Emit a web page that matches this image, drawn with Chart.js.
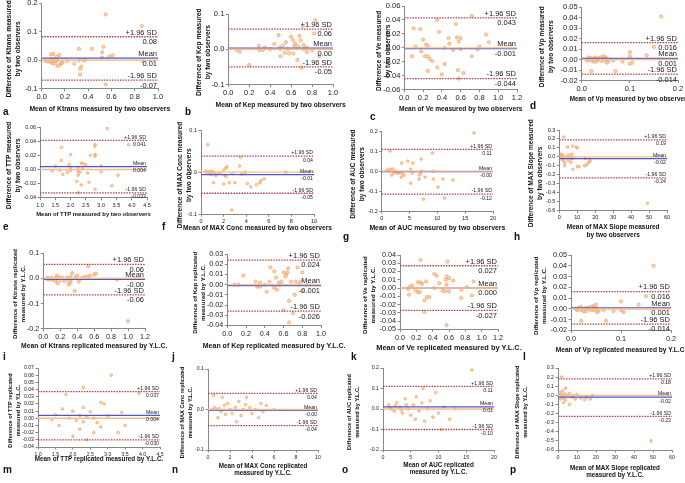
<!DOCTYPE html>
<html>
<head>
<meta charset="utf-8">
<script src="https://cdn.jsdelivr.net/npm/chart.js@4.4.0/dist/chart.umd.min.js"></script>
<style>
  body { margin: 0; background: #fff; width: 685px; height: 483px; overflow: hidden; position: relative; font-family: "Liberation Sans", Arial, sans-serif; }
  .panel { position: absolute; }
  .letter { position: absolute; font-weight: bold; font-size: 10px; color: #111; line-height: 10px; }
</style>
</head>
<body>
<script>
// Bland-Altman data: [mean of two measurements, difference]
const ktransObs = [[0.55,0.16],[0.86,0.12],[0.87,-0.003],[0.55,-0.085],[0.32,0.04],[0.43,0.04],[0.53,0.047],[0.52,0.028],[0.52,0.01],[0.58,0.012],[0.61,0.017],[0.33,-0.05],[0.33,-0.03],[0.34,-0.022],[0.32,-0.001],[0.36,0.0],[0.37,0.0],[0.28,-0.012],[0.22,-0.003],[0.18,-0.008],[0.16,-0.015],[0.15,0.018],[0.13,0.012],[0.12,-0.005],[0.1,0.022],[0.08,0.02],[0.09,0.003],[0.07,-0.003],[0.05,-0.005],[0.03,-0.002],[0.09,-0.01],[0.11,-0.012],[0.14,-0.02],[0.17,-0.01],[0.13,0.0],[0.11,0.002],[0.08,-0.007]];
const kepObs = [[0.2,-0.045],[0.08,-0.002],[0.11,-0.007],[0.29,0.01],[0.3,-0.003],[0.33,-0.002],[0.35,0.005],[0.4,0.0],[0.44,0.015],[0.48,0.04],[0.49,0.005],[0.5,-0.02],[0.5,0.0],[0.52,0.01],[0.54,-0.01],[0.55,0.02],[0.57,0.0],[0.58,-0.012],[0.6,0.035],[0.62,0.025],[0.63,0.01],[0.64,0.015],[0.62,-0.012],[0.66,-0.03],[0.67,0.008],[0.68,0.038],[0.69,0.025],[0.7,-0.052],[0.72,0.0],[0.75,-0.008],[0.75,0.005],[0.8,-0.003],[0.83,0.082],[0.82,0.045],[0.87,-0.02],[0.72,0.012],[0.71,0.065]];
const veObs = [[0.72,0.046],[0.35,0.04],[0.55,0.034],[0.1,0.028],[0.17,0.027],[0.37,0.023],[0.87,0.019],[0.56,0.015],[0.6,0.014],[0.47,0.014],[0.2,0.012],[0.23,0.005],[0.25,0.003],[0.12,0.002],[0.58,0.009],[0.48,0.006],[0.9,0.008],[0.8,0.002],[0.43,0.0],[0.52,-0.003],[0.6,-0.002],[0.18,-0.005],[0.22,-0.012],[0.25,-0.012],[0.08,-0.012],[0.27,-0.016],[0.3,-0.019],[0.35,-0.028],[0.43,-0.023],[0.25,-0.033],[0.4,-0.038],[0.57,-0.032],[0.63,-0.036],[0.58,-0.044],[0.72,-0.012],[0.78,-0.002]];
const vpObs = [[0.165,0.041],[0.15,0.012],[0.135,0.004],[0.1,0.007],[0.1,0.003],[0.105,-0.003],[0.1,-0.004],[0.07,-0.011],[0.02,-0.011],[0.085,-0.002],[0.065,-0.001],[0.01,0.0],[0.015,0.002],[0.02,-0.001],[0.025,0.0],[0.03,0.001],[0.03,-0.002],[0.035,0.0],[0.04,0.002],[0.045,0.003],[0.045,-0.001],[0.05,0.0],[0.05,0.002],[0.055,-0.002],[0.025,-0.002],[0.02,0.001],[0.035,0.001],[0.04,-0.001],[0.048,0.001],[0.052,-0.003],[0.012,-0.001],[0.028,0.002]];
const ttpObs = [[3.2,0.058],[3.9,0.035],[2.8,0.035],[2.8,0.033],[1.7,0.031],[2.0,0.021],[2.65,0.02],[2.8,0.021],[2.8,0.019],[1.7,0.013],[2.35,0.009],[2.4,0.008],[2.5,0.007],[1.95,0.007],[1.5,0.005],[2.0,0.003],[2.25,0.003],[3.0,0.005],[2.4,0.001],[1.65,-0.001],[1.4,-0.002],[2.0,-0.001],[2.25,-0.003],[2.3,-0.004],[1.9,-0.004],[2.55,-0.005],[2.25,-0.008],[3.0,-0.003],[3.55,-0.008],[2.2,-0.017],[2.6,-0.018],[2.35,-0.022],[3.35,-0.023],[2.25,-0.033],[2.8,-0.028],[1.75,-0.007]];
const maxConcObs = [[0.6,0.065],[2.7,-0.09],[3.5,0.035],[3.4,0.015],[2.2,0.01],[2.0,0.005],[2.3,0.013],[1.0,0.002],[0.5,0.0],[0.7,0.0],[0.8,0.001],[1.2,-0.002],[1.5,-0.003],[1.7,-0.002],[2.8,-0.003],[3.6,-0.005],[3.9,0.0],[0.9,-0.005],[1.3,-0.008],[2.1,-0.008],[1.1,-0.025],[2.0,-0.028],[2.5,-0.025],[3.0,-0.025],[4.1,-0.027],[4.4,-0.035],[4.9,-0.03],[5.2,-0.025],[5.3,-0.02],[5.6,-0.016],[7.5,0.0],[0.4,0.002],[2.2,-0.01]];
const aucObs = [[16.6,0.19],[9.1,0.09],[1.5,0.1],[7.1,0.06],[4.7,0.05],[3.6,0.04],[5.6,0.04],[2.0,0.01],[1.2,0.0],[1.5,0.01],[0.9,0.005],[2.5,0.0],[3.0,-0.01],[2.8,-0.01],[1.8,-0.02],[3.6,-0.01],[4.0,-0.02],[5.2,0.01],[5.5,-0.01],[6.8,-0.02],[7.0,-0.01],[7.2,0.0],[7.8,-0.03],[6.7,-0.04],[5.2,-0.06],[3.5,-0.03],[9.3,0.0],[9.3,-0.04],[11.0,-0.04],[12.8,-0.045],[10.1,-0.08],[7.5,-0.14],[11.3,-0.135],[2.2,-0.01]];
const maxSlopeObs = [[2.5,0.22],[7.5,0.12],[4.5,0.11],[9.5,0.11],[10,0.1],[1,0.03],[1.5,0.02],[2,0.01],[1,0.0],[1.5,-0.01],[2,-0.02],[3,0.0],[2.5,-0.04],[3,-0.07],[3,-0.1],[5,0.02],[6,0.0],[7,0.03],[7,-0.02],[8,-0.01],[5,-0.04],[6.5,-0.06],[7.5,-0.14],[10,-0.11],[11,-0.11],[14,-0.1],[15,-0.09],[16,-0.07],[17,-0.05],[17,-0.04],[14.5,-0.02],[49,-0.52],[1.5,-0.03],[4,-0.01]];
const ktransRep = [[1.0,-0.17],[0.53,0.048],[0.34,0.02],[0.37,-0.05],[0.6,0.015],[0.62,0.018],[0.55,0.01],[0.5,0.005],[0.45,0.0],[0.42,-0.013],[0.32,-0.018],[0.3,-0.01],[0.32,0.005],[0.28,0.003],[0.18,0.005],[0.16,0.01],[0.1,0.002],[0.05,0.003],[0.05,-0.004],[0.08,-0.005],[0.12,-0.006],[0.14,-0.01],[0.17,-0.02],[0.2,-0.008],[0.25,-0.012],[0.3,-0.025],[0.33,-0.003],[0.38,0.005],[0.48,0.003],[0.52,0.005],[0.87,-0.005],[0.15,0.0],[0.22,0.003],[0.4,0.01]];
const kepRep = [[0.17,0.009],[0.08,0.0],[0.12,0.0],[0.3,0.003],[0.32,-0.002],[0.35,-0.002],[0.35,0.002],[0.4,0.0],[0.42,-0.007],[0.45,0.003],[0.46,0.017],[0.5,0.013],[0.5,-0.003],[0.52,0.007],[0.53,-0.005],[0.55,0.002],[0.56,0.0],[0.58,0.003],[0.6,0.012],[0.62,0.008],[0.63,0.01],[0.65,0.016],[0.64,0.012],[0.66,-0.016],[0.66,-0.037],[0.6,-0.025],[0.68,0.003],[0.7,-0.028],[0.72,-0.01],[0.73,0.003],[0.75,0.017],[0.78,0.003],[0.8,0.012],[0.8,-0.006],[0.85,0.0],[0.76,0.0]];
const veRep = [[0.25,0.034],[0.58,0.032],[0.42,0.017],[0.45,0.015],[0.57,0.014],[0.6,0.012],[0.56,0.01],[0.65,0.009],[0.32,0.008],[0.22,0.007],[0.25,0.007],[0.9,0.008],[0.48,0.006],[0.57,0.004],[0.27,0.005],[0.15,0.003],[0.12,0.002],[0.1,-0.001],[0.19,-0.003],[0.22,-0.005],[0.24,-0.005],[0.42,0.0],[0.55,-0.004],[0.6,-0.004],[0.52,-0.003],[0.75,-0.002],[0.82,0.001],[0.11,-0.008],[0.3,-0.015],[0.33,-0.011],[0.36,-0.011],[0.75,-0.012],[0.88,-0.009],[0.3,-0.029],[0.57,-0.045]];
const vpRep = [[0.165,0.04],[0.15,0.012],[0.135,0.004],[0.1,0.007],[0.1,-0.001],[0.105,-0.003],[0.07,-0.011],[0.02,-0.011],[0.085,-0.002],[0.065,-0.001],[0.01,0.0],[0.015,0.001],[0.02,-0.001],[0.025,0.0],[0.03,0.001],[0.03,-0.002],[0.035,0.0],[0.04,0.002],[0.045,0.003],[0.045,-0.001],[0.05,0.0],[0.05,0.004],[0.055,-0.002],[0.025,-0.002],[0.02,0.002],[0.035,0.001],[0.04,-0.001],[0.048,0.001],[0.052,-0.003],[0.012,-0.001]];
const ttpRep = [[3.1,0.06],[2.3,0.043],[1.8,0.033],[3.9,0.035],[2.8,0.022],[2.9,0.02],[2.3,0.015],[1.7,0.013],[2.0,0.01],[2.5,0.009],[3.4,0.008],[1.5,0.005],[2.2,0.004],[2.4,0.002],[1.9,0.0],[2.6,0.0],[3.0,0.003],[1.4,-0.002],[2.1,-0.003],[2.3,-0.005],[2.7,-0.006],[3.5,-0.01],[2.2,-0.015],[2.6,-0.02],[3.3,-0.02],[2.0,-0.025],[2.4,-0.03],[1.6,-0.01],[2.8,-0.012]];
const maxConcRep = [[0.5,0.035],[0.6,0.005],[0.8,0.0],[1.0,0.002],[1.2,-0.005],[1.5,0.01],[1.8,0.015],[2.0,0.0],[2.2,-0.01],[2.5,0.005],[2.8,0.02],[3.0,-0.015],[3.2,0.0],[3.5,0.03],[3.8,0.005],[4.0,-0.01],[4.3,0.0],[4.6,-0.02],[5.0,-0.005],[5.3,0.01],[1.3,0.03],[0.9,-0.02],[2.6,-0.03],[4.8,0.015],[6.0,0.0],[1.6,-0.012],[3.4,0.012],[0.4,0.0]];
const aucRep = [[1,0.02],[1.5,0.0],[2,-0.01],[2.5,0.03],[3,0.01],[3.5,-0.02],[4,0.05],[4.5,0.0],[5,-0.03],[5.5,0.02],[6,0.06],[6.5,-0.01],[7,0.03],[7.5,-0.06],[8,0.0],[8.5,0.04],[9,-0.04],[9.5,0.08],[10,-0.02],[11,0.01],[12,-0.05],[13,0.0],[16,0.19],[2.2,0.015],[3.3,-0.005],[5.8,-0.05],[1.2,0.005],[4.2,0.02],[7.2,0.1],[10.5,-0.1]];
const maxSlopeRep = [[2,0.2],[1,0.03],[1.5,0.01],[2,-0.01],[2.5,0.0],[3,-0.03],[3.5,0.02],[4,-0.05],[5,0.0],[6,0.02],[7,-0.02],[8,0.0],[9,-0.04],[10,0.01],[12,-0.03],[14,-0.05],[15,-0.02],[17,-0.04],[18,0.0],[6,-0.1],[4,0.08],[49,-0.5],[1.5,-0.04],[2.5,0.05],[3,-0.08]];

// limits of agreement: [+1.96 SD, mean, -1.96 SD] and the printed labels
const panels = [
  { key: 'a', pts: ktransObs,   lim: [0.082, 0.007, -0.07],   txt: ['0.08', '0.01', '-0.07'],   x: [0, 1, 0.2, 1],   y: [-0.1, 0.2, 0.1, 1],
    xTitle: ['Mean of Ktrans measured by two observers'], yTitle: ['Difference of Ktrans measured', 'by two observers'] },
  { key: 'b', pts: kepObs,      lim: [0.057, 0.003, -0.05],   txt: ['0.06', '0.00', '-0.05'],   x: [0, 1, 0.2, 1],   y: [-0.1, 0.1, 0.1, 1],
    xTitle: ['Mean of Kep measured by two observers'], yTitle: ['Difference of Kep measured', 'by two observers'] },
  { key: 'c', pts: veObs,       lim: [0.043, -0.001, -0.044], txt: ['0.043', '-0.001', '-0.044'], x: [0, 1.2, 0.2, 1], y: [-0.06, 0.06, 0.02, 2],
    xTitle: ['Mean of Ve measured by two observers'], yTitle: ['Difference of Ve measured', 'by two observers'] },
  { key: 'd', pts: vpObs,       lim: [0.016, 0.001, -0.014],  txt: ['0.016', '0.001', '-0.014'], x: [0, 0.2, 0.1, 1], y: [-0.02, 0.05, 0.01, 2],
    xTitle: ['Mean of Vp measured by two observers'], yTitle: ['Difference of Vp measured', 'by two observers'] },
  { key: 'e', pts: ttpObs,      lim: [0.041, 0.004, -0.033],  txt: ['0.041', '0.004', '-0.033'], x: [1, 4.5, 0.5, 1], y: [-0.04, 0.06, 0.02, 2],
    xTitle: ['Mean of TTP measured by two observers'], yTitle: ['Difference of TTP measured', 'by two observers'] },
  { key: 'f', pts: maxConcObs,  lim: [0.038, -0.006, -0.05],  txt: ['0.04', '-0.01', '-0.05'],   x: [0, 10, 2, 0],    y: [-0.1, 0.1, 0.1, 1],
    xTitle: ['Mean of MAX Conc measured by two observers'], yTitle: ['Difference of MAX Conc measured', 'by two observers'] },
  { key: 'g', pts: aucObs,      lim: [0.108, -0.003, -0.115], txt: ['0.11', '-0.00', '-0.12'],   x: [0, 20, 5, 0],    y: [-0.2, 0.2, 0.1, 1],
    xTitle: ['Mean of AUC measured by two observers'], yTitle: ['Difference of AUC measured', 'by two observers'] },
  { key: 'h', pts: maxSlopeObs, lim: [0.19, -0.02, -0.235],   txt: ['0.19', '-0.02', '-0.24'],   x: [0, 60, 10, 0],   y: [-0.6, 0.3, 0.1, 1],
    xTitle: ['Mean of MAX Slope measured', 'by two observers'], yTitle: ['Difference of MAX Slope measured', 'by two observers'] },
  { key: 'i', pts: ktransRep,   lim: [0.055, -0.004, -0.066], txt: ['0.06', '-0.00', '-0.06'],   x: [0, 1.2, 0.2, 1], y: [-0.2, 0.1, 0.1, 1],
    xTitle: ['Mean of Ktrans replicated measured by Y.L.C.'], yTitle: ['Difference of Ktrans replicated', 'measured by Y.L.C.'] },
  { key: 'j', pts: kepRep,      lim: [0.024, -0.001, -0.026], txt: ['0.024', '-0.001', '-0.026'], x: [0, 1, 0.2, 1],   y: [-0.04, 0.03, 0.01, 2],
    xTitle: ['Mean of Kep replicated measured by Y.L.C.'], yTitle: ['Difference of Kep replicated', 'measured by Y.L.C.'] },
  { key: 'k', pts: veRep,       lim: [0.027, 0.0, -0.027],    txt: ['0.027', '0.000', '-0.027'], x: [0, 1.2, 0.2, 1], y: [-0.05, 0.04, 0.01, 2],
    xTitle: ['Mean of Ve replicated measured by Y.L.C.'], yTitle: ['Difference of Ve replicated', 'measured by Y.L.C.'] },
  { key: 'l', pts: vpRep,       lim: [0.016, 0.001, -0.014],  txt: ['0.016', '0.001', '-0.014'], x: [0, 0.2, 0.1, 1], y: [-0.02, 0.05, 0.01, 2],
    xTitle: ['Mean of Vp replicated measured by Y.L.C.'], yTitle: ['Difference of Vp replicated', 'measured by Y.L.C.'] },
  { key: 'm', pts: ttpRep,      lim: [0.037, 0.004, -0.03],   txt: ['0.037', '0.004', '-0.030'], x: [1, 4.5, 0.5, 1], y: [-0.04, 0.07, 0.01, 2],
    xTitle: ['Mean of TTP replicated measured by Y.L.C.'], yTitle: ['Difference of TTP replicated', 'measured by Y.L.C.'] },
  { key: 'n', pts: maxConcRep,  lim: [0.04, -0.002, -0.04],   txt: ['0.04', '-0.00', '-0.04'],   x: [0, 10, 2, 0],    y: [-0.1, 0.1, 0.1, 1],
    xTitle: ['Mean of MAX Conc replicated', 'measured by Y.L.C.'], yTitle: ['Difference of MAX Conc replicated', 'measured by Y.L.C.'] },
  { key: 'o', pts: aucRep,      lim: [0.11, 0.01, -0.1],      txt: ['0.11', '0.01', '-0.10'],    x: [0, 20, 5, 0],    y: [-0.2, 0.2, 0.1, 1],
    xTitle: ['Mean of AUC replicated', 'measured by Y.L.C.'], yTitle: ['Difference of AUC replicated', 'measured by Y.L.C.'] },
  { key: 'p', pts: maxSlopeRep, lim: [0.18, -0.02, -0.23],    txt: ['0.18', '-0.02', '-0.23'],   x: [0, 60, 10, 0],   y: [-0.6, 0.3, 0.1, 1],
    xTitle: ['Mean of MAX Slope replicated', 'measured by Y.L.C.'], yTitle: ['Difference of MAX Slope replicated', 'measured by Y.L.C.'] }
];

// page layout: plot box [left, right, top, bottom], y-title left edge, x-title bottom, font sizes, letter position
const layout = {
  a: { plot: [41.7, 157.7, 3.3, 89.3],   yt: 5,   xb: 113.5, tick: 7.5, xt: 6.8, yt2: 6.7, ref: 7.5, letter: [3, 107] },
  b: { plot: [228.3, 333.3, 14.3, 85],   yt: 195, xb: 109.5, tick: 7.5, xt: 6.7, yt2: 6.6, ref: 7.5, letter: [185, 107] },
  c: { plot: [404.3, 517, 5.7, 89.3],    yt: 375, xb: 112.5, tick: 7.5, xt: 6.6, yt2: 6.4, ref: 7.5, letter: [370, 112] },
  d: { plot: [581.7, 678.3, 6.7, 80],    yt: 538, xb: 102.5, tick: 7.5, xt: 6.4, yt2: 6.4, ref: 7.5, letter: [530, 101] },
  e: { plot: [40, 146.7, 127.3, 198.3],  yt: 5,   xb: 218.5, tick: 5.5, xt: 5.9, yt2: 6.6, ref: 5.2, letter: [3, 222] },
  f: { plot: [201, 314, 130, 214.3],     yt: 176, xb: 232,   tick: 5.5, xt: 6.6, yt2: 6.5, ref: 5.2, letter: [162, 222] },
  g: { plot: [381.7, 493.3, 131, 210.7], yt: 349, xb: 231.5, tick: 5.5, xt: 6.9, yt2: 6.6, ref: 5.2, letter: [343, 232] },
  h: { plot: [559.3, 667.3, 130, 210],   yt: 527, xb: 238.5, tick: 5.5, xt: 6.5, yt2: 6.5, ref: 5.2, letter: [514, 232] },
  i: { plot: [43.3, 145, 253.3, 329.3],  yt: 11,  xb: 350.5, tick: 7.2, xt: 6.75, yt2: 6.2, ref: 7.5, letter: [3, 352] },
  j: { plot: [227.3, 320.7, 254.3, 326], yt: 191, xb: 350.5, tick: 7.2, xt: 7.0, yt2: 6.2, ref: 7.5, letter: [172, 352] },
  k: { plot: [400, 498.3, 255, 329.3],   yt: 361, xb: 352,   tick: 7.2, xt: 7.4, yt2: 6.2, ref: 7.5, letter: [351, 352] },
  l: { plot: [571, 671, 255, 330],       yt: 532, xb: 353.5, tick: 7.2, xt: 6.6, yt2: 6.2, ref: 7.5, letter: [523, 352] },
  m: { plot: [38, 160, 368, 447],        yt: 7,   xb: 463,   tick: 5.2, xt: 6.3, yt2: 5.6, ref: 5.2, letter: [3, 465] },
  n: { plot: [208, 318, 369, 450],       yt: 179, xb: 477,   tick: 5.2, xt: 6.3, yt2: 5.6, ref: 5.2, letter: [172, 465] },
  o: { plot: [383, 494, 368, 450],       yt: 346, xb: 476,   tick: 5.2, xt: 6.3, yt2: 5.6, ref: 5.2, letter: [342, 465] },
  p: { plot: [558, 672, 368, 450],       yt: 514, xb: 479,   tick: 5.2, xt: 6.3, yt2: 5.6, ref: 5.2, letter: [510, 465] }
};

const FONT = '"Liberation Sans", Arial, sans-serif';
const sdColor = '#b0404f';
const meanColor = '#4c5ac8';
const zeroColor = '#f7bd8e';

// text for the limit lines, right-aligned inside the plot
const refLabels = {
  id: 'refLabels',
  afterDatasetsDraw(chart, args, opts) {
    const { ctx, chartArea, scales: { y } } = chart;
    ctx.save();
    ctx.font = opts.size + 'px ' + FONT;
    ctx.fillStyle = '#222';
    ctx.textAlign = 'right';
    const rx = chartArea.right - 1;
    const names = ['+1.96 SD', 'Mean', '-1.96 SD'];
    opts.lim.forEach((v, i) => {
      const py = y.getPixelForValue(v);
      ctx.textBaseline = 'bottom';
      ctx.fillText(names[i], rx, py - 0.5);
      ctx.textBaseline = 'top';
      ctx.fillText(opts.txt[i], rx, py + 1.5);
    });
    ctx.restore();
  }
};

// axis titles drawn without the width squeeze of the built-in titles
const axisTitles = {
  id: 'axisTitles',
  afterDraw(chart, args, opts) {
    const { ctx, chartArea, height } = chart;
    ctx.save();
    ctx.fillStyle = '#111';
    ctx.textAlign = 'center';
    ctx.textBaseline = 'bottom';
    ctx.font = 'bold ' + opts.xSize + 'px ' + FONT;
    const xLh = opts.xSize * 1.2;
    const cx = (chartArea.left + chartArea.right) / 2;
    const n = opts.xText.length;
    opts.xText.forEach((t, i) => ctx.fillText(t, cx, height - 0.5 - (n - 1 - i) * xLh));

    ctx.font = 'bold ' + opts.ySize + 'px ' + FONT;
    const yLh = opts.ySize * 1.35;
    const cy = (chartArea.top + chartArea.bottom) / 2 + 3;
    ctx.textBaseline = 'middle';
    opts.yText.forEach((t, i) => {
      ctx.save();
      ctx.translate(yLh / 2 + i * yLh, cy);
      ctx.rotate(-Math.PI / 2);
      ctx.fillText(t, 0, 0);
      ctx.restore();
    });
    ctx.restore();
  }
};

function hLine(xMin, xMax, v, color, width, dash) {
  return {
    type: 'line', data: [{ x: xMin, y: v }, { x: xMax, y: v }],
    borderColor: color, borderWidth: width, borderDash: dash,
    pointRadius: 0, showLine: true, fill: false
  };
}

panels.forEach(p => {
  const lay = layout[p.key];
  const [x1, x2, y1, y2] = lay.plot;
  const padTop = 32, padRight = 28;
  const left = lay.yt, top = y1 - padTop;
  const w = Math.round(x2 + padRight - left), h = Math.round(lay.xb - top);
  const yw = x1 - left, xh = lay.xb - y2;

  const box = document.createElement('div');
  box.className = 'panel';
  box.style.left = left + 'px';
  box.style.top = top + 'px';
  const canvas = document.createElement('canvas');
  canvas.width = w;
  canvas.height = h;
  box.appendChild(canvas);
  document.body.appendChild(box);

  const letter = document.createElement('div');
  letter.className = 'letter';
  letter.textContent = p.key;
  letter.style.left = lay.letter[0] + 'px';
  letter.style.top = lay.letter[1] + 'px';
  document.body.appendChild(letter);

  const [xMin, xMax, xStep, xDec] = p.x;
  const [yMin, yMax, yStep, yDec] = p.y;
  const tickFont = { family: FONT, size: lay.tick };

  new Chart(canvas, {
    type: 'scatter',
    data: {
      datasets: [
        hLine(xMin, xMax, 0, zeroColor, 1.4, []),
        hLine(xMin, xMax, p.lim[1], meanColor, 1.2, []),
        hLine(xMin, xMax, p.lim[0], sdColor, 1.3, [1.5, 1.2]),
        hLine(xMin, xMax, p.lim[2], sdColor, 1.3, [1.5, 1.2]),
        {
          data: p.pts.map(([x, y]) => ({ x, y })),
          pointRadius: lay.tick > 6 ? 1.6 : 1.3,
          pointBorderWidth: 0.8,
          backgroundColor: 'rgba(250,200,160,0.7)',
          borderColor: '#f2a468'
        }
      ]
    },
    options: {
      responsive: false,
      animation: false,
      devicePixelRatio: 1,
      layout: { padding: { left: 0, top: padTop, right: padRight, bottom: 0 } },
      plugins: {
        legend: { display: false },
        tooltip: { enabled: false },
        refLabels: { lim: p.lim, txt: p.txt, size: lay.ref },
        axisTitles: { xText: p.xTitle, yText: p.yTitle, xSize: lay.xt, ySize: lay.yt2 }
      },
      scales: {
        x: {
          type: 'linear', min: xMin, max: xMax,
          afterFit: s => { s.height = xh; },
          grid: { drawOnChartArea: false, drawTicks: true, tickLength: 2.5, color: '#888' },
          border: { color: '#888' },
          ticks: { stepSize: xStep, font: tickFont, color: '#222', padding: 1.5, maxRotation: 0, autoSkip: false,
                   callback: v => Number(v).toFixed(xDec) }
        },
        y: {
          type: 'linear', min: yMin, max: yMax,
          afterFit: s => { s.width = yw; },
          grid: { drawOnChartArea: false, drawTicks: true, tickLength: 2.5, color: '#888' },
          border: { color: '#888' },
          ticks: { stepSize: yStep, font: tickFont, color: '#222', padding: 1.5, autoSkip: false,
                   callback: v => Number(v).toFixed(yDec) }
        }
      }
    },
    plugins: [refLabels, axisTitles]
  });
});
</script>
</body>
</html>
